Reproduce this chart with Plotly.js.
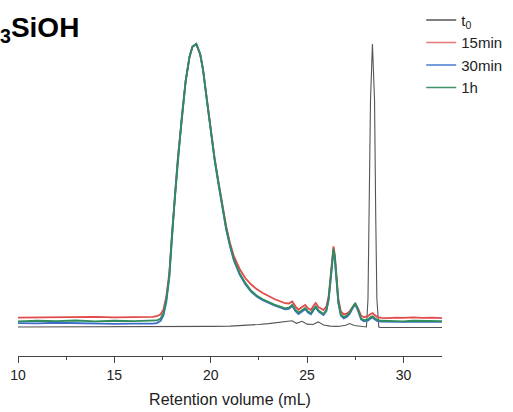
<!DOCTYPE html>
<html>
<head>
<meta charset="utf-8">
<script src="https://cdn.plot.ly/plotly-3.0.1.min.js"></script>
<style>
  html, body { margin: 0; padding: 0; background: #fff; }
  #chart { width: 513px; height: 412px; }
</style>
</head>
<body>
<div id="chart"></div>
<script>
// Retention volume (mL) grid for the sampled traces
const vol = [10.0, 11.0, 12.0, 13.0, 14.0, 15.0, 16.0, 16.6, 17.0, 17.2, 17.4, 17.55, 17.7, 17.85, 18.0, 18.15, 18.3, 18.5, 18.7, 18.9, 19.05, 19.25, 19.45, 19.6, 19.8, 20.0, 20.2, 20.4, 20.6, 20.8, 21.0, 21.2, 21.5, 21.8, 22.1, 22.4, 22.7, 23.0, 23.3, 23.6, 23.85, 24.05, 24.23, 24.4, 24.55, 24.72, 24.9, 25.05, 25.2, 25.35, 25.45, 25.6, 25.85, 26.0, 26.12, 26.22, 26.3, 26.37, 26.44, 26.52, 26.62, 26.75, 26.9, 27.05, 27.2, 27.35, 27.5, 27.65, 27.8, 27.95, 28.15, 28.3, 28.4, 28.5, 28.65, 28.85, 29.2, 29.6, 30.0, 30.5, 31.0, 31.5, 32.0];

const s15min = [0.033, 0.034, 0.033, 0.035, 0.036, 0.034, 0.035, 0.034, 0.036, 0.038, 0.045, 0.062, 0.11, 0.19, 0.345, 0.472, 0.60, 0.745, 0.87, 0.955, 0.99, 1.0, 0.965, 0.91, 0.80, 0.69, 0.597, 0.513, 0.43, 0.356, 0.297, 0.25, 0.205, 0.172, 0.15, 0.133, 0.12, 0.108, 0.099, 0.091, 0.084, 0.083, 0.09, 0.072, 0.061, 0.07, 0.078, 0.066, 0.06, 0.077, 0.085, 0.07, 0.06, 0.072, 0.11, 0.18, 0.25, 0.285, 0.255, 0.18, 0.10, 0.055, 0.045, 0.047, 0.055, 0.07, 0.082, 0.065, 0.04, 0.034, 0.038, 0.046, 0.049, 0.042, 0.035, 0.032, 0.031, 0.033, 0.032, 0.034, 0.032, 0.033, 0.031];

const s30min = [0.014, 0.013, 0.015, 0.013, 0.012, 0.011, 0.012, 0.011, 0.012, 0.014, 0.022, 0.042, 0.09, 0.175, 0.335, 0.468, 0.598, 0.744, 0.869, 0.954, 0.99, 1.0, 0.964, 0.908, 0.797, 0.686, 0.59, 0.505, 0.42, 0.344, 0.285, 0.235, 0.185, 0.15, 0.124, 0.107, 0.095, 0.085, 0.076, 0.069, 0.062, 0.064, 0.074, 0.056, 0.046, 0.054, 0.063, 0.051, 0.045, 0.061, 0.069, 0.054, 0.042, 0.056, 0.097, 0.165, 0.235, 0.27, 0.24, 0.165, 0.085, 0.04, 0.03, 0.035, 0.045, 0.064, 0.08, 0.056, 0.027, 0.02, 0.022, 0.03, 0.033, 0.027, 0.021, 0.019, 0.018, 0.019, 0.018, 0.019, 0.018, 0.019, 0.018];

const s1h = [0.020, 0.022, 0.021, 0.023, 0.020, 0.022, 0.021, 0.022, 0.022, 0.023, 0.030, 0.050, 0.10, 0.18, 0.34, 0.47, 0.60, 0.745, 0.87, 0.955, 0.99, 1.0, 0.965, 0.91, 0.80, 0.69, 0.595, 0.51, 0.425, 0.35, 0.29, 0.24, 0.19, 0.155, 0.128, 0.11, 0.098, 0.088, 0.079, 0.072, 0.066, 0.068, 0.078, 0.06, 0.05, 0.058, 0.067, 0.055, 0.049, 0.065, 0.073, 0.058, 0.046, 0.06, 0.10, 0.17, 0.24, 0.276, 0.245, 0.17, 0.09, 0.045, 0.035, 0.04, 0.05, 0.068, 0.085, 0.06, 0.03, 0.024, 0.027, 0.035, 0.038, 0.032, 0.025, 0.022, 0.021, 0.022, 0.020, 0.022, 0.021, 0.022, 0.021];

// t0 trace sampled separately (sharp solvent peak)
const volT0 = [10, 12, 14, 16, 18, 20, 21, 22, 22.5, 23, 23.5, 23.9, 24.22, 24.45, 24.74, 25.0, 25.3, 25.58, 25.85, 26.2, 26.6, 27.0, 27.2, 27.45, 27.8, 28.0, 28.08, 28.16, 28.22, 28.29, 28.39, 28.5, 28.56, 28.62, 28.72, 28.8, 29.0, 30, 31, 32];
const t0 = [0, 0, 0, 0, 0.001, 0.002, 0.003, 0.006, 0.009, 0.012, 0.016, 0.017, 0.022, 0.013, 0.02, 0.01, 0.009, 0.018, 0.007, 0.003, 0.002, 0.006, 0.012, 0.005, 0.002, 0.001, 0.0, 0.1, 0.4, 0.8, 1.0, 0.8, 0.4, 0.1, 0.0, -0.002, -0.002, -0.002, -0.002, -0.002];

const seriesNames = ['t<sub>0</sub>', '15min', '30min', '1h'];
const seriesColors = ['#555555', '#e24a4c', '#3d6dcc', '#2f8c5b'];
const legendColors = ['#555555', '#e67a7a', '#4a7ad4', '#3f9466'];

const seriesY = [t0, s15min, s30min, s1h];
const seriesX = [volT0, vol, vol, vol];
const widths = [1.1, 1.8, 1.8, 1.8];

const traces = [];
for (let i = 0; i < 4; i++) {
  traces.push({x: seriesX[i], y: seriesY[i], name: seriesNames[i], mode: 'lines',
               showlegend: false, line: {color: seriesColors[i], width: widths[i]}});
}
// legend entries with thin key lines (as in the reference)
for (let i = 0; i < 4; i++) {
  traces.push({x: [null], y: [null], name: seriesNames[i], mode: 'lines',
               showlegend: true, hoverinfo: 'skip', line: {color: legendColors[i], width: 1.3}});
}

const layout = {
  width: 513, height: 412,
  margin: {l: 18, r: 71, t: 10, b: 56, autoexpand: false},
  paper_bgcolor: '#ffffff', plot_bgcolor: '#ffffff',
  font: {family: 'Liberation Sans, Arial, sans-serif', color: '#222'},
  showlegend: true,
  legend: {x: 0.951, y: 1.018, xanchor: 'left', yanchor: 'top', bgcolor: 'rgba(0,0,0,0)',
           font: {size: 15, color: '#222'}, tracegroupgap: 0},
  xaxis: {
    range: [10, 32], showgrid: false, zeroline: false,
    showline: true, linecolor: '#444', linewidth: 1,
    ticks: 'outside', ticklen: 6, tickcolor: '#444', tickwidth: 1,
    tickvals: [10, 15, 20, 25, 30],
    minor: {tickvals: [12.5, 17.5, 22.5, 27.5], ticks: 'outside', ticklen: 3, tickcolor: '#444'},
    tickfont: {size: 14, color: '#222'},
    title: {text: 'Retention volume (mL)', font: {size: 16, color: '#222'}, standoff: 12}
  },
  yaxis: {range: [-0.1025, 1.12], visible: false, showgrid: false, zeroline: false},
  annotations: [{
    xref: 'paper', yref: 'paper', x: -0.047, y: 0.944, xanchor: 'left', yanchor: 'middle',
    text: '<b><sub>3</sub>SiOH</b>', showarrow: false,
    font: {size: 28, color: '#000', family: 'Liberation Sans, Arial, sans-serif'}
  }]
};

Plotly.newPlot('chart', traces, layout, {displayModeBar: false, staticPlot: true});
</script>
</body>
</html>
